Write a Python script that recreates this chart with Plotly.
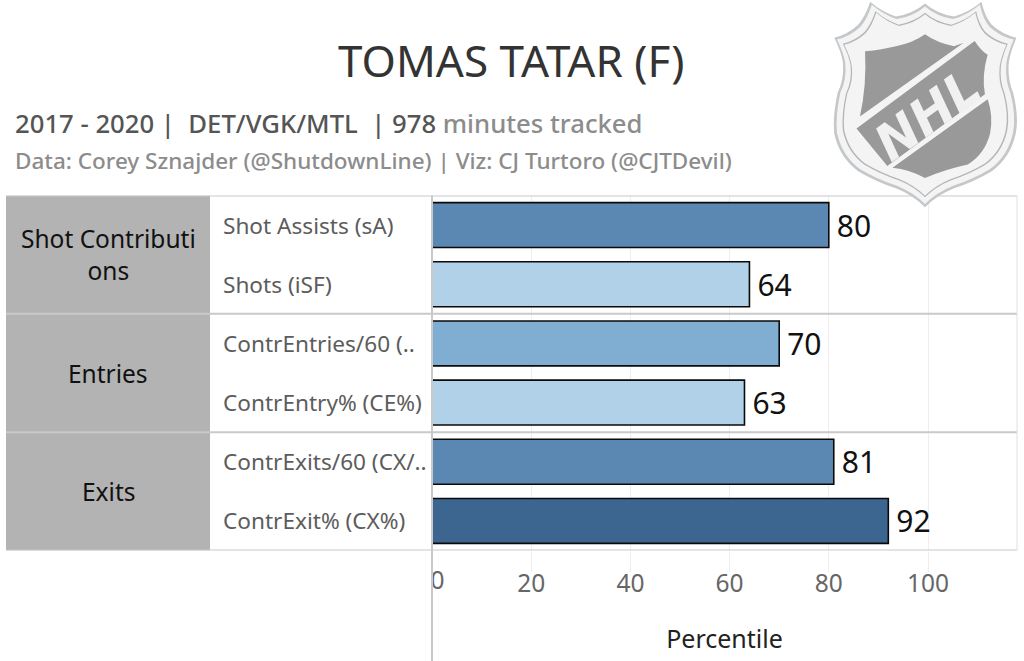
import plotly.graph_objects as go

W, H = 1024, 661
FONT = "Noto Sans"

metrics = ["Shot Assists (sA)", "Shots (iSF)", "ContrEntries/60 (..", "ContrEntry% (CE%)",
           "ContrExits/60 (CX/..", "ContrExit% (CX%)"]
percentiles = [80, 64, 70, 63, 81, 92]
groups = ["Shot Contributi<br>ons", "Entries", "Exits"]
group_rows = [(0, 1), (2, 3), (4, 5)]
tick_values = [20, 40, 60, 80, 100]

colorscale = [[0, "#b1d1e9"], [0.67, "#b1d1e9"], [0.67, "#80aed3"], [0.75, "#80aed3"],
              [0.75, "#5b88b3"], [0.9, "#5b88b3"], [0.9, "#3c6690"], [1, "#3c6690"]]

PLOT_TOP, PLOT_BOT = 195.5, 550.5
GRID = "#c9c9c9"


def px(x):
    return x / W


def py(y):
    return 1 - y / H


def logo_path(d, s=1.0, cx=365, cy=300):
    """Convert a logo outline (M/Q/L commands, flat point lists) to a paper-coordinate path."""
    out = []
    for cmd in d:
        if cmd == "Z":
            out.append("Z")
            continue
        k, pts = cmd[0], cmd[1:]
        coords = []
        for a, b in pts:
            a2, b2 = cx + (a - cx) * s, cy + (b - cy) * s
            coords.append(f"{px(800 + a2 / 2.92):.5f},{py(b2 / 2.92):.5f}")
        out.append(k + " ".join(coords))
    return " ".join(out)


OUTLINE = [("M", (205, 5)), ("Q", (240, 35), (280, 48)), ("Q", (330, 40), (365, 10)), ("Q", (400, 40), (450, 48)),
           ("Q", (495, 35), (530, 5)), ("Q", (540, 50), (560, 72)), ("Q", (590, 100), (632, 110)),
           ("Q", (615, 150), (610, 180)), ("Q", (605, 230), (622, 270)), ("Q", (640, 340), (630, 390)),
           ("Q", (615, 460), (560, 500)), ("Q", (510, 530), (450, 550)), ("Q", (400, 570), (365, 605)),
           ("Q", (330, 570), (280, 550)), ("Q", (220, 530), (170, 500)), ("Q", (115, 460), (100, 390)),
           ("Q", (95, 340), (110, 270)), ("Q", (130, 230), (125, 180)), ("Q", (120, 150), (100, 110)),
           ("Q", (140, 100), (170, 72)), ("Q", (190, 50), (205, 5)), "Z"]
FIELD_TOP = [("M", (190, 150)), ("Q", (240, 145), (280, 135)), ("Q", (330, 125), (365, 100)),
             ("Q", (400, 125), (450, 135)), ("L", (478, 125)), ("L", (175, 340)), ("Q", (195, 250), (190, 150)), "Z"]
FIELD_BAND = [("M", (510, 120)), ("Q", (530, 150), (548, 160)), ("Q", (530, 220), (540, 275)),
              ("L", (255, 485)), ("L", (165, 375)), "Z"]
FIELD_LOW = [("M", (548, 290)), ("Q", (565, 340), (555, 390)), ("Q", (540, 450), (490, 480)),
             ("Q", (420, 495), (365, 520)), ("Q", (320, 495), (270, 490)), "Z"]

fig = go.Figure()
fig.add_trace(go.Bar(
    x=percentiles, y=metrics, orientation="h", width=0.76,
    marker=dict(color=percentiles, colorscale=colorscale, cmin=0, cmax=100,
                line=dict(color="#0a0a0a", width=1.6)),
    text=percentiles, texttemplate="\u2009%{text}", textposition="outside", cliponaxis=False,
    textfont=dict(family=FONT, size=30, color="#111111"), hoverinfo="skip",
))
fig.add_trace(go.Scatter(
    x=[1.1], y=[0.71], mode="text", text=["0"], xaxis="x2", yaxis="y2", cliponaxis=True,
    textfont=dict(family=FONT, size=24.5, color="#666666"), hoverinfo="skip",
))

shapes = []
annotations = []

for (a, b), label in zip(group_rows, groups):
    shapes.append(dict(type="rect", xref="paper", yref="y", x0=px(6), x1=px(210),
                       y0=a - 0.5, y1=b + 0.5, fillcolor="#b3b3b3", line_width=0, layer="below"))
    annotations.append(dict(xref="paper", yref="y", x=px(108), y=(a + b) / 2, text=label, showarrow=False,
                            xanchor="center", yanchor="middle",
                            font=dict(family=FONT, size=24.5, color="#111111")))
for y in [-0.5, 1.5, 3.5, 5.5]:
    shapes.append(dict(type="line", xref="paper", yref="y", x0=px(6), x1=px(1017), y0=y, y1=y,
                       line=dict(color=GRID, width=2)))
shapes.append(dict(type="line", xref="paper", yref="paper", x0=px(1017), x1=px(1017),
                   y0=py(PLOT_TOP), y1=py(PLOT_BOT), line=dict(color="#e0e0e0", width=1)))
shapes.append(dict(type="line", xref="paper", yref="paper", x0=px(432), x1=px(432),
                   y0=py(PLOT_TOP), y1=0, line=dict(color=GRID, width=2)))

for i, m in enumerate(metrics):
    annotations.append(dict(xref="paper", yref="y", x=px(221), y=i, text=m, showarrow=False,
                            xanchor="left", yanchor="middle",
                            font=dict(family=FONT, size=22.6, color="#5c5c5c")))

for d, s, color in [(OUTLINE, 1.0, "#c4c8cb"), (OUTLINE, 0.97, "#f4f4f4"), (OUTLINE, 0.905, "#b5b5b5"),
                    (OUTLINE, 0.89, "#f4f4f4"), (FIELD_TOP, 1.0, "#999999"), (FIELD_BAND, 1.0, "#999999"),
                    (FIELD_LOW, 1.0, "#999999")]:
    shapes.append(dict(type="path", xref="paper", yref="paper", path=logo_path(d, s), fillcolor=color, line_width=0))

annotations.append(dict(xref="paper", yref="paper", x=px(928), y=py(115), text="<b><i>NHL</i></b>",
                        showarrow=False, textangle=-36, xanchor="center", yanchor="middle",
                        font=dict(family="DejaVu Sans", size=50, color="#f1f1f1")))

annotations += [
    dict(xref="paper", yref="paper", x=px(510.5), y=py(60), text="TOMAS TATAR (F)", showarrow=False,
         xanchor="center", yanchor="middle", font=dict(family=FONT, size=44, color="#333333")),
    dict(xref="paper", yref="paper", x=px(13), y=py(123), showarrow=False, xanchor="left", yanchor="middle",
         text="2017 - 2020 |  DET/VGK/MTL  | 978 <span style='color:#8c8c8c'>minutes tracked</span>",
         font=dict(family=FONT, size=25.7, color="#555555", weight=500)),
    dict(xref="paper", yref="paper", x=px(13), y=py(161), showarrow=False, xanchor="left", yanchor="middle",
         text="Data: Corey Sznajder (@ShutdownLine) | Viz: CJ Turtoro (@CJTDevil)",
         font=dict(family=FONT, size=22.5, color="#8c8c8c", weight=500)),
]

fig.update_layout(
    width=W, height=H, autosize=False, showlegend=False, bargap=0.24,
    margin=dict(l=0, r=0, t=0, b=0), paper_bgcolor="white", plot_bgcolor="white",
    font=dict(family=FONT),
    shapes=shapes, annotations=annotations,
    xaxis=dict(domain=[px(432), px(1017)], range=[0, 585 / 4.96], anchor="y", tickvals=tick_values,
               ticks="outside", ticklen=20, tickcolor="#eeeeee", tickwidth=1, ticklabelstandoff=-9,
               showgrid=True, gridcolor="#eeeeee", gridwidth=1, zeroline=False, showline=False,
               tickfont=dict(family=FONT, size=24.5, color="#666666"),
               title=dict(text="Percentile", standoff=32,
                          font=dict(family=FONT, size=25, color="#222222"))),
    yaxis=dict(domain=[py(PLOT_BOT), py(PLOT_TOP)], range=[5.5, -0.5], type="category",
               categoryorder="array", categoryarray=metrics, anchor="x",
               showticklabels=False, ticks="", showgrid=False, zeroline=False, showline=False),
    xaxis2=dict(domain=[px(432), px(1017)], range=[0, 585 / 4.96], anchor="y2", visible=False),
    yaxis2=dict(domain=[0, py(PLOT_BOT)], range=[0, 1], anchor="x2", showticklabels=False, ticks="",
                showgrid=False, zeroline=False, showline=False),
)
fig.write_html("out.html", config={"displayModeBar": False},
               post_script="document.body.style.margin='0';document.body.style.overflow='hidden';")
